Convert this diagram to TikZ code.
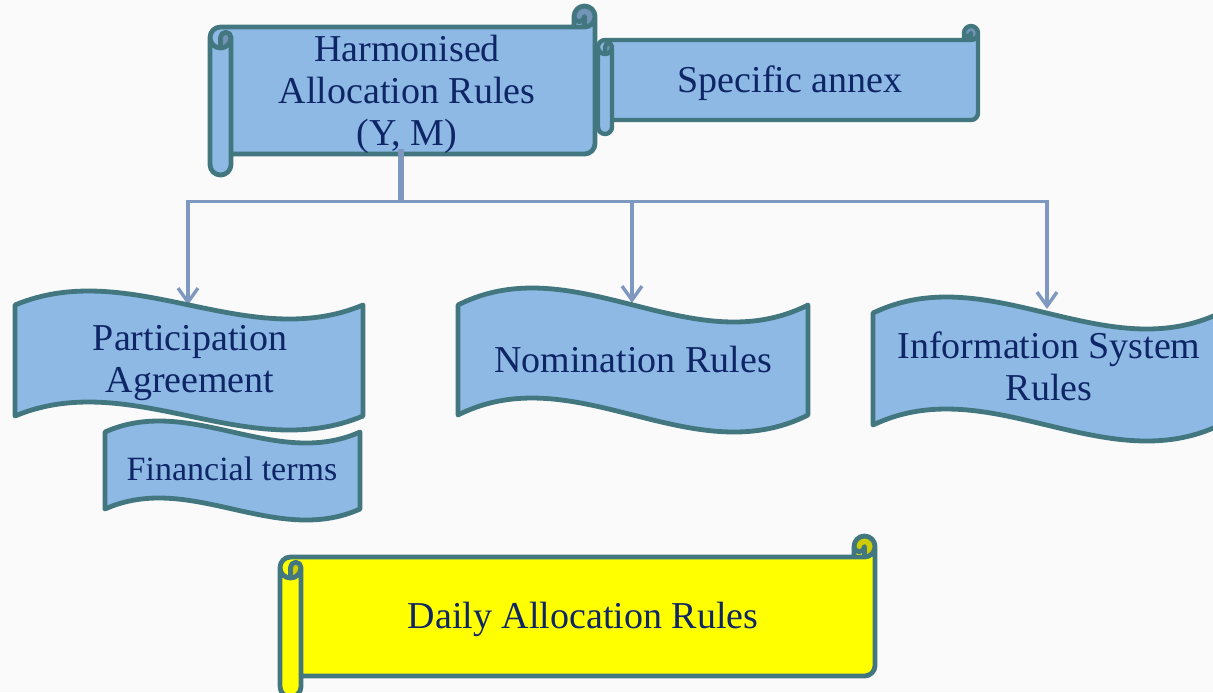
\documentclass[tikz,border=0pt]{standalone}
\usepackage{fontspec}
\setmainfont{Liberation Serif}
\usetikzlibrary{arrows.meta}
\definecolor{boxblue}{RGB}{142,185,229}
\definecolor{edgeteal}{RGB}{66,119,128}
\definecolor{txtnavy}{RGB}{14,37,102}
\definecolor{connblue}{RGB}{127,152,192}
\definecolor{bggray}{RGB}{250,250,250}
\definecolor{scrollyellow}{RGB}{255,255,0}
\tikzset{
  scrollline/.style={draw=edgeteal, line width=2.4pt, line join=round},
  waveline/.style={draw=edgeteal, fill=boxblue, line width=2.4pt, line join=round},
  boxtext/.style={text=txtnavy, font=\fontsize{19}{21}\selectfont, align=center, inner sep=0pt},
  smalltext/.style={text=txtnavy, font=\fontsize{17}{20}\selectfont, align=center, inner sep=0pt},
  linkline/.style={draw=connblue, line width=1.7pt, -{Straight Barb[length=7pt,width=10pt]}}
}
% horizontal scroll: #1 left, #2 top, #3 right, #4 bottom, #5 roll size, #6 fill colour, #7 line width
\newcommand\hscrollshape[7]{%
\pgfmathsetmacro\hscc{#5/2}%
\pgfmathsetmacro\hsq{#5/4}%
\pgfmathsetmacro\hsya{#2+1.5*#5}%
\pgfmathsetmacro\hsyb{#2+2*#5}%
\pgfmathsetmacro\hsyd{#4-#5}%
\pgfmathsetmacro\hsye{#4-#5/2}%
\pgfmathsetmacro\hsyc{#4-1.5*#5}%
\pgfmathsetmacro\hsxa{#3-#5}%
\pgfmathsetmacro\hsxb{#3-#5/2}%
\pgfmathsetmacro\hsxl{#1+#5}%
\pgfmathsetmacro\hsxm{#1+#5/2}%
\pgfmathsetmacro\hsyt{#2+#5}%
\pgfmathsetmacro\hsyh{#2+#5/2}%
\path[fill=#6] (#1,\hsya) arc[start angle=180,delta angle=90,radius=\hscc] -- (\hsxa,\hsyt) -- (\hsxa,\hsyh)
  arc[start angle=180,delta angle=180,radius=\hscc] -- (#3,\hsyc) arc[start angle=0,delta angle=90,radius=\hscc]
  -- (\hsxl,\hsyd) -- (\hsxl,\hsye) arc[start angle=0,delta angle=180,radius=\hscc] -- cycle;
\path[fill=#6!80!black] (\hsxm,\hsyb) arc[start angle=90,delta angle=-90,radius=\hscc] arc[start angle=0,delta angle=-180,radius=\hsq] -- cycle
  (\hsxb,\hsyt) arc[start angle=90,delta angle=-270,radius=\hscc] arc[start angle=180,delta angle=-180,radius=\hsq] -- cycle;
\draw[scrollline, line width=#7] (#1,\hsya) arc[start angle=180,delta angle=90,radius=\hscc] -- (\hsxa,\hsyt) -- (\hsxa,\hsyh)
  arc[start angle=180,delta angle=180,radius=\hscc] -- (#3,\hsyc) arc[start angle=0,delta angle=90,radius=\hscc]
  -- (\hsxl,\hsyd) -- (\hsxl,\hsye) arc[start angle=0,delta angle=180,radius=\hscc] -- cycle
  (\hsxa,\hsyt) -- (\hsxb,\hsyt) arc[start angle=90,delta angle=-90,radius=\hscc]
  (\hsxb,\hsyt) -- (\hsxb,\hsyh) arc[start angle=0,delta angle=180,radius=\hsq]
  (\hsxm,\hsyb) -- (\hsxm,\hsya) arc[start angle=180,delta angle=180,radius=\hsq] arc[start angle=0,delta angle=180,radius=\hscc]
  (\hsxl,\hsya) -- (\hsxl,\hsyd);
}
% wave: #1 left, #2 top, #3 right, #4 bottom, #5 wave depth
\newcommand\waveshape[5]{%
\pgfmathsetmacro\wvA{3.464*#5}%
\pgfmathsetmacro\wvxa{#1+(#3-#1)/3}%
\pgfmathsetmacro\wvxb{#1+2*(#3-#1)/3}%
\pgfmathsetmacro\wvyt{#2+#5}%
\pgfmathsetmacro\wvyb{#4-#5}%
\draw[waveline] (#1,\wvyt) .. controls (\wvxa,\wvyt-\wvA) and (\wvxb,\wvyt+\wvA) .. (#3,\wvyt)
  -- (#3,\wvyb) .. controls (\wvxb,\wvyb+\wvA) and (\wvxa,\wvyb-\wvA) .. (#1,\wvyb) -- cycle;
}
\begin{document}
\begin{tikzpicture}[x=0.5pt,y=0.5pt,yscale=-1]
\useasboundingbox (0,0) rectangle (1213,692);
\clip (0,0) rectangle (1213,692);
\fill[bggray] (0,0) rectangle (1213,692);

% top scrolls
\hscrollshape{598}{26}{978}{134}{14}{boxblue}{2.2pt}
\node[boxtext, anchor=base] (spec) at (790,92) {Specific annex};
\hscrollshape{210}{6}{595}{175}{21}{boxblue}{2.4pt}
\node[boxtext] (harm) at (407,94.5) {Harmonised\\Allocation Rules\\(Y, M)};

% connectors
\coordinate (harmout) at (401,149);
\coordinate (bus) at (401,201.5);
\coordinate (partin) at (188,305);
\coordinate (nomin) at (632,303);
\coordinate (infoin) at (1047,309);
\draw[draw=connblue, line width=3pt] (harmout) -- (bus);
\draw[linkline] (bus) -| (partin);
\draw[linkline] (bus) -| (nomin);
\draw[linkline] (bus) -| (infoin);

% waves
\waveshape{15}{291}{363}{430}{14}
\node[boxtext] (part) at (190,363.5) {Participation\\Agreement};
\waveshape{105}{421}{360}{520}{11}
\node[smalltext, anchor=base] (fin) at (232,480) {Financial terms};
\waveshape{458}{288}{808}{432}{17}
\node[boxtext, anchor=base] (nom) at (633,372) {Nomination Rules};
\waveshape{873}{297}{1220}{441}{16}
\node[boxtext] (info) at (1049,366) {Information System\\Rules};

% daily scroll
\hscrollshape{280}{536}{875}{697}{21}{scrollyellow}{2.4pt}
\node[boxtext, anchor=base] (daily) at (583,628) {Daily Allocation Rules};
\end{tikzpicture}
\end{document}
